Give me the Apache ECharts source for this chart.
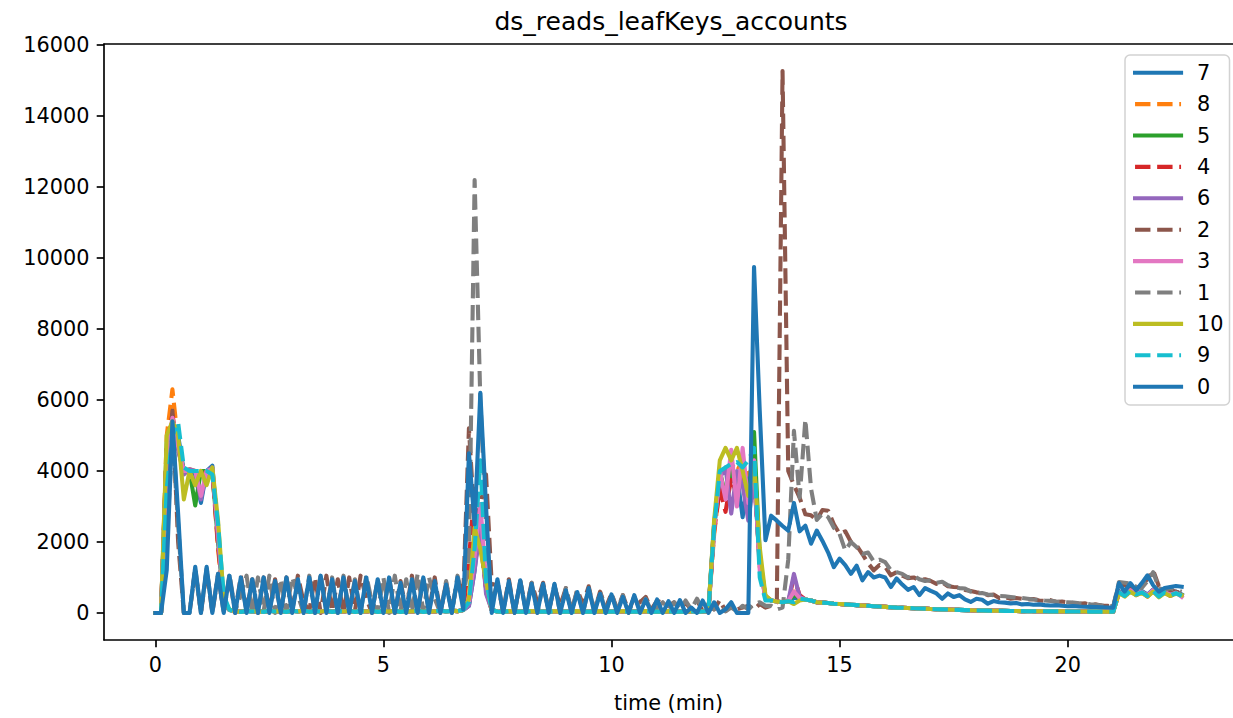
<!DOCTYPE html>
<html><head><meta charset="utf-8">
<script src="https://cdn.jsdelivr.net/npm/echarts@6/dist/echarts.min.js"></script>
<style>html,body{margin:0;padding:0;background:#fff}#c{width:1233px;height:718px}</style>
</head><body><div id="c"></div>
<script>
// sampling step of the series (minutes)
const STEP_MIN = 0.125;

const s7 = [
0, 0, 4000, 5300, 5000, 4000, 4000, 3900, 3100, 4000, 4150, 2200,
350, 80, 50, 30, 60, 40, 50, 30,
60, 40, 50, 30, 60, 40, 70, 30, 50, 40, 60, 30, 50, 40, 60, 30, 50, 40, 60, 30,
50, 40, 60, 30, 50, 40, 60, 30, 50, 40, 70, 40, 60, 50, 80,
200, 1200, 2800, 700, 80,
40, 30, 50, 30, 40, 30, 50, 30, 40, 30, 50, 30, 40, 30, 50, 30, 40, 30, 50, 30,
40, 30, 50, 30, 40, 30, 50, 30, 40, 30, 50, 30, 40, 30, 50, 30, 40, 50,
2400, 3900, 4000, 3700, 3900, 2700, 3800, 4000, 1400,
450, 350, 320, 300, 330, 420, 420, 380, 350, 300, 290, 280, 260,
250, 240, 230, 220, 210, 200, 190, 180, 170, 160, 150, 145, 140, 130, 125, 120, 110, 105, 100, 95,
90, 85, 80, 75, 70, 68, 65, 62, 60, 58, 55, 53, 50, 49, 48, 47, 46, 45, 44, 43,
42, 41, 40, 39, 38, 37, 36, 35, 35,
620, 520, 680, 560, 620, 520, 660, 500, 620, 540, 600, 520
];
const s8 = [
0, 0, 5000, 6300, 4800, 4000, 4050, 4000, 4000, 4000, 4000, 1800,
250, 70, 40, 30, 50, 40, 50, 30,
60, 40, 50, 30, 60, 40, 70, 30, 50, 40, 60, 30, 50, 40, 60, 30, 50, 40, 60, 30,
50, 40, 60, 30, 50, 40, 60, 30, 50, 40, 70, 40, 60, 50, 80,
300, 1800, 2600, 600, 80,
40, 30, 50, 30, 40, 30, 50, 30, 40, 30, 50, 30, 40, 30, 50, 30, 40, 30, 50, 30,
40, 30, 50, 30, 40, 30, 50, 30, 40, 30, 50, 30, 40, 30, 50, 30, 40, 50,
2200, 3630, 4000, 4200, 4000, 4300, 3900, 4100, 1300,
470, 360, 320, 300, 330, 600, 450, 380, 350, 300, 290, 280, 260,
250, 240, 230, 220, 210, 200, 190, 180, 170, 160, 150, 145, 140, 130, 125, 120, 110, 105, 100, 95,
90, 85, 80, 75, 70, 68, 65, 62, 60, 58, 55, 53, 50, 49, 48, 47, 46, 45, 44, 43,
42, 41, 40, 39, 38, 37, 36, 35, 35,
580, 480, 620, 520, 580, 480, 640, 460, 580, 500, 560, 480
];
const s5 = [
0, 0, 4800, 5400, 4700, 4000, 4000, 3030, 4000, 4000, 4000, 2000,
300, 80, 50, 30, 60, 40, 50, 30,
60, 40, 50, 30, 60, 40, 70, 30, 50, 40, 60, 30, 50, 40, 60, 30, 50, 40, 60, 30,
50, 40, 60, 30, 50, 40, 60, 30, 50, 40, 70, 40, 60, 50, 80,
250, 1400, 2200, 900, 80,
40, 30, 50, 30, 40, 30, 50, 30, 40, 30, 50, 30, 40, 30, 50, 30, 40, 30, 50, 30,
40, 30, 50, 30, 40, 30, 50, 30, 40, 30, 50, 30, 40, 30, 50, 30, 40, 50,
2500, 4000, 3300, 4000, 3500, 4200, 3100, 5100, 1600,
450, 350, 320, 300, 330, 500, 420, 380, 350, 300, 290, 280, 260,
250, 240, 230, 220, 210, 200, 190, 180, 170, 160, 150, 145, 140, 130, 125, 120, 110, 105, 100, 95,
90, 85, 80, 75, 70, 68, 65, 62, 60, 58, 55, 53, 50, 49, 48, 47, 46, 45, 44, 43,
42, 41, 40, 39, 38, 37, 36, 35, 35,
600, 500, 650, 530, 600, 480, 640, 470, 600, 500, 560, 500
];
const s4 = [
0, 0, 4700, 5600, 4600, 4000, 4000, 4000, 3800, 4000, 4000, 1900,
300, 80, 50, 30, 60, 40, 50, 30,
60, 40, 50, 30, 60, 40, 70, 30, 50, 40, 60, 30, 50, 40, 60, 30, 50, 40, 60, 30,
50, 40, 60, 30, 50, 40, 60, 30, 50, 40, 70, 40, 60, 50, 80,
1500, 3500, 2000, 700, 80,
40, 30, 50, 30, 40, 30, 50, 30, 40, 30, 50, 30, 40, 30, 50, 30, 40, 30, 50, 30,
40, 30, 50, 30, 40, 30, 50, 30, 40, 30, 50, 30, 40, 30, 50, 30, 40, 50,
2300, 3500, 2850, 3800, 3300, 4000, 3000, 3900, 1400,
450, 350, 320, 300, 330, 1000, 500, 380, 350, 300, 290, 280, 260,
250, 240, 230, 220, 210, 200, 190, 180, 170, 160, 150, 145, 140, 130, 125, 120, 110, 105, 100, 95,
90, 85, 80, 75, 70, 68, 65, 62, 60, 58, 55, 53, 50, 49, 48, 47, 46, 45, 44, 43,
42, 41, 40, 39, 38, 37, 36, 35, 35,
560, 450, 620, 500, 580, 460, 620, 450, 580, 480, 540, 480
];
const s6 = [
0, 0, 4600, 5400, 4600, 3900, 4050, 4000, 3200, 4000, 4100, 2100,
300, 80, 50, 30, 60, 40, 50, 30,
60, 40, 50, 30, 60, 40, 70, 30, 50, 40, 60, 30, 50, 40, 60, 30, 50, 40, 60, 30,
50, 40, 60, 30, 50, 40, 60, 30, 50, 40, 70, 40, 60, 50, 80,
200, 1200, 2400, 540, 80,
40, 30, 50, 30, 40, 30, 50, 30, 40, 30, 50, 30, 40, 30, 50, 30, 40, 30, 50, 30,
40, 30, 50, 30, 40, 30, 50, 30, 40, 30, 50, 30, 40, 30, 50, 30, 40, 50,
2500, 3800, 4100, 2800, 4000, 3600, 2600, 3800, 1500,
450, 350, 320, 300, 330, 1100, 450, 380, 350, 300, 290, 280, 260,
250, 240, 230, 220, 210, 200, 190, 180, 170, 160, 150, 145, 140, 130, 125, 120, 110, 105, 100, 95,
90, 85, 80, 75, 70, 68, 65, 62, 60, 58, 55, 53, 50, 49, 48, 47, 46, 45, 44, 43,
42, 41, 40, 39, 38, 37, 36, 35, 35,
600, 500, 660, 550, 600, 500, 650, 480, 600, 520, 580, 500
];
const s2 = [
0, 0, 3500, 5700, 2000, 0, 0, 1250, 0, 1200, 0, 1050, 50, 1000, 0, 1050, 50, 950, 0, 1000,
50, 950, 0, 1000, 50, 1050, 300, 50, 1000, 0, 1050, 50, 950, 0, 1000, 50, 1050, 400, 0, 950,
50, 1000, 0, 900, 50, 1050, 0, 950, 50, 1000, 0, 850, 50, 950, 500, 5200, 2500, 3000, 3900, 800,
800, 50, 950, 0, 900, 100, 850, 300, 850, 50, 750, 200, 700, 50, 650, 250, 750, 50, 600, 150,
550, 100, 500, 50, 450, 300, 450, 100, 350, 280, 200, 300, 100, 280, 100, 355, 50, 170, 100, 360,
50, 200, 100, 150, 200, 100, 250, 150, 200, 300, 15270, 4000, 3600, 3250, 2780, 2750, 2620, 2900, 2880, 2500,
2230, 2300, 2000, 1900, 1660, 1400, 1200, 1350, 1300, 1060, 1150, 1050, 980, 1000, 920, 950, 900, 820, 860, 750,
730, 720, 650, 620, 580, 560, 500, 520, 420, 450, 400, 420, 400, 380, 390, 350, 340, 360, 310, 320,
300, 280, 260, 270, 230, 240, 210, 200, 190, 800, 780, 700, 650, 800, 950, 1200, 750, 600, 650, 600,
550
];
const s3 = [
0, 0, 4500, 5500, 4700, 4000, 4000, 4000, 3300, 4000, 4050, 2300,
300, 80, 50, 30, 60, 40, 50, 30,
60, 40, 50, 30, 60, 40, 70, 30, 50, 40, 60, 30, 50, 40, 60, 30, 50, 40, 60, 30,
50, 40, 60, 30, 50, 40, 60, 30, 50, 40, 70, 40, 60, 50, 80,
300, 1600, 3070, 900, 80,
40, 30, 50, 30, 40, 30, 50, 30, 40, 30, 50, 30, 40, 30, 50, 30, 40, 30, 50, 30,
40, 30, 50, 30, 40, 30, 50, 30, 40, 30, 50, 30, 40, 30, 50, 30, 40, 50,
2400, 4000, 3200, 4600, 3000, 4650, 3100, 4300, 1200,
450, 350, 320, 300, 330, 600, 420, 380, 350, 300, 290, 280, 260,
250, 240, 230, 220, 210, 200, 190, 180, 170, 160, 150, 145, 140, 130, 125, 120, 110, 105, 100, 95,
90, 85, 80, 75, 70, 68, 65, 62, 60, 58, 55, 53, 50, 49, 48, 47, 46, 45, 44, 43,
42, 41, 40, 39, 38, 37, 36, 35, 35,
580, 480, 640, 540, 590, 490, 640, 470, 590, 510, 570, 450
];
const s1 = [
0, 0, 2000, 5000, 2500, 0, 0, 1200, 0, 1250, 50, 1100, 0, 1100, 50, 500, 1050, 0, 1000, 50,
1050, 0, 950, 50, 1000, 500, 0, 1050, 0, 1100, 50, 1000, 0, 1050, 50, 950, 0, 1050, 300, 50,
1000, 0, 1050, 50, 950, 0, 1100, 50, 1000, 400, 0, 900, 0, 1050, 400, 1500, 12200, 6000, 2500, 200,
900, 50, 850, 0, 900, 50, 850, 0, 800, 50, 800, 0, 700, 50, 650, 0, 700, 50, 600, 0,
550, 50, 500, 0, 450, 100, 400, 50, 150, 300, 100, 300, 100, 350, 100, 400, 100, 250, 100, 200,
50, 150, 50, 200, 100, 250, 300, 200, 200, 100, 150, 1500, 5130, 3250, 5450, 3500, 2620, 2800, 2700, 2400,
2230, 1760, 2000, 1850, 1660, 1700, 1450, 1500, 1430, 1200, 1150, 1100, 1000, 1050, 950, 900, 920, 850, 880, 780,
730, 700, 690, 600, 550, 560, 520, 500, 480, 470, 450, 430, 420, 400, 380, 370, 350, 340, 320, 310,
300, 290, 270, 260, 240, 230, 210, 200, 190, 870, 850, 830, 740, 700, 900, 1150, 700, 650, 700, 650,
600
];
const s10 = [
0, 0, 5000, 5400, 5000, 3200, 4000, 3600, 4000, 3600, 4100, 2600,
400, 90, 50, 30, 60, 40, 50, 30,
60, 40, 50, 30, 60, 40, 70, 30, 50, 40, 60, 30, 50, 40, 60, 30, 50, 40, 60, 30,
50, 40, 60, 30, 50, 40, 60, 30, 50, 40, 70, 40, 60, 50, 80,
400, 2400, 1800, 900, 80,
40, 30, 50, 30, 40, 30, 50, 30, 40, 30, 50, 30, 40, 30, 50, 30, 40, 30, 50, 30,
40, 30, 50, 30, 40, 30, 50, 30, 40, 30, 50, 30, 40, 30, 50, 30, 40, 50,
2600, 4300, 4650, 4300, 4650, 4000, 3300, 4200, 1850,
500, 350, 320, 300, 330, 250, 350, 380, 350, 300, 290, 280, 260,
250, 240, 230, 220, 210, 200, 190, 180, 170, 160, 150, 145, 140, 130, 125, 120, 110, 105, 100, 95,
90, 85, 80, 75, 70, 68, 65, 62, 60, 58, 55, 53, 50, 49, 48, 47, 46, 45, 44, 43,
42, 41, 40, 39, 38, 37, 36, 35, 35,
560, 460, 600, 500, 560, 460, 600, 440, 560, 480, 540, 500
];
const s9 = [
0, 0, 3500, 5000, 5360, 4100, 4000, 4000, 4000, 4000, 3900, 2500,
500, 90, 40, 30, 50, 40, 50, 30,
60, 40, 50, 30, 60, 40, 70, 30, 50, 40, 60, 30, 50, 40, 60, 30, 50, 40, 60, 30,
50, 40, 60, 30, 50, 40, 60, 30, 50, 40, 70, 40, 60, 50, 80,
300, 1800, 4300, 900, 80,
40, 30, 50, 30, 40, 30, 50, 30, 40, 30, 50, 30, 40, 30, 50, 30, 40, 30, 50, 30,
40, 30, 50, 30, 40, 30, 50, 30, 40, 30, 50, 30, 40, 30, 50, 30, 40, 50,
2400, 4000, 4100, 4200, 4250, 4100, 4300, 4650, 1000,
350, 350, 320, 300, 330, 300, 400, 380, 350, 300, 290, 280, 260,
250, 240, 230, 220, 210, 200, 190, 180, 170, 160, 150, 145, 140, 130, 125, 120, 110, 105, 100, 95,
90, 85, 80, 75, 70, 68, 65, 62, 60, 58, 55, 53, 50, 49, 48, 47, 46, 45, 44, 43,
42, 41, 40, 39, 38, 37, 36, 35, 35,
580, 480, 620, 520, 580, 480, 620, 460, 580, 500, 560, 480
];
const s0 = [
0, 0, 1200, 5400, 2800, 0, 0, 1300, 0, 1300, 0, 1100, 0, 1050, 0, 1000, 0, 950, 0, 1000,
0, 900, 0, 1000, 0, 950, 0, 1000, 0, 1050, 0, 950, 0, 1000, 0, 900, 0, 1000, 0, 950,
0, 1000, 0, 850, 0, 950, 0, 1000, 0, 900, 0, 800, 0, 1000, 100, 4500, 2500, 6200, 3000, 0,
950, 0, 900, 0, 920, 0, 820, 0, 820, 0, 820, 0, 640, 0, 590, 0, 700, 0, 540, 0,
520, 0, 450, 0, 500, 0, 380, 0, 380, 0, 330, 0, 360, 0, 150, 0, 350, 0, 300, 0,
100, 300, 0, 0, 0, 9750, 5700, 2050, 2740, 2600, 2450, 2320, 3100, 2300, 2460, 1950, 2320, 2030, 1700, 1290,
1530, 1350, 1100, 1330, 920, 1150, 1000, 1050, 1000, 730, 970, 800, 650, 730, 500, 700, 620, 550, 400, 550,
450, 500, 380, 310, 400, 370, 260, 335, 300, 290, 270, 280, 240, 250, 230, 240, 220, 210, 215, 200,
190, 195, 180, 175, 170, 165, 160, 155, 150, 840, 600, 840, 640, 840, 1060, 780, 600, 700, 730, 760,
740
];

const seriesNames  = ['7', '8', '5', '4', '6', '2', '3', '1', '10', '9', '0'];
const seriesValues = [s7, s8, s5, s4, s6, s2, s3, s1, s10, s9, s0];
const seriesColors = ['#1f77b4', '#ff7f0e', '#2ca02c', '#d62728', '#9467bd', '#8c564b',
                      '#e377c2', '#7f7f7f', '#bcbd22', '#17becf', '#1f77b4'];
const seriesDashed = [false, true, false, true, false, true, false, true, false, true, false];
const xTicks = [0, 5, 10, 15, 20];
const yTicks = [0, 2000, 4000, 6000, 8000, 10000, 12000, 14000, 16000];
const time = s0.map((_, i) => i * STEP_MIN);

const FONT = 'DejaVu Sans';
const FS = 20.8;
const LW = 4.1;
const axisLineStyle = { color: '#000', width: 1.67 };

const chart = echarts.init(document.getElementById('c'), null, { renderer: 'svg', width: 1233, height: 718 });
chart.setOption({
  animation: false,
  backgroundColor: '#ffffff',
  textStyle: { fontFamily: FONT },
  graphic: [{
    type: 'text', x: 671, y: 21,
    style: {
      text: 'ds_reads_leafKeys_accounts', font: '25px "DejaVu Sans"', fill: '#000',
      align: 'center', verticalAlign: 'middle', textAlign: 'center', textVerticalAlign: 'middle'
    }
  }],
  grid: { left: 104, right: -6.4, top: 44, bottom: 75 },
  legend: {
    orient: 'vertical', left: 1125, top: 55,
    data: seriesNames,
    itemWidth: 46, itemHeight: 22, itemGap: 9.4,
    padding: [6.7, 6, 7.3, 8],
    backgroundColor: 'rgba(255,255,255,0.8)',
    borderColor: '#d2d2d2', borderWidth: 1.5, borderRadius: 5,
    itemStyle: { opacity: 0 },
    lineStyle: { width: LW },
    formatter: name => '{t|' + name + '}',
    textStyle: {
      fontFamily: FONT, fontSize: FS, color: '#000', lineHeight: 22,
      rich: { t: { fontFamily: FONT, fontSize: FS, color: '#000', lineHeight: 22, padding: [0, 0, 0, 11] } }
    }
  },
  xAxis: [{
    type: 'value', min: -1.125, max: 23.625,
    name: 'time (min)', nameLocation: 'middle', nameGap: 52,
    nameTextStyle: { fontFamily: FONT, fontSize: FS, color: '#000' },
    axisLine: { show: true, onZero: false, lineStyle: axisLineStyle },
    axisTick: { show: true, customValues: xTicks, length: 7.3, lineStyle: axisLineStyle },
    axisLabel: { customValues: xTicks, fontFamily: FONT, fontSize: FS, color: '#000', margin: 14.6, formatter: v => String(v) },
    splitLine: { show: false }
  }, {
    type: 'value', position: 'top', min: -1.125, max: 23.625,
    axisLine: { show: true, onZero: false, lineStyle: axisLineStyle },
    axisTick: { show: false }, axisLabel: { show: false }, splitLine: { show: false }
  }],
  yAxis: [{
    type: 'value', min: -763, max: 16033,
    axisLine: { show: true, onZero: false, lineStyle: axisLineStyle },
    axisTick: { show: true, customValues: yTicks, length: 7.3, lineStyle: axisLineStyle },
    axisLabel: { customValues: yTicks, fontFamily: FONT, fontSize: FS, color: '#000', margin: 14.6, formatter: v => String(v) },
    splitLine: { show: false }
  }],
  series: seriesNames.map((name, k) => ({
    name: name, type: 'line', xAxisIndex: 0, yAxisIndex: 0,
    data: seriesValues[k].map((v, i) => [time[i], v]),
    symbol: 'none', showSymbol: false, silent: true,
    itemStyle: { color: seriesColors[k] },
    lineStyle: {
      color: seriesColors[k], width: LW,
      type: seriesDashed[k] ? [15.4, 6.7] : 'solid',
      cap: seriesDashed[k] ? 'butt' : 'square', join: 'round'
    }
  }))
});
</script></body></html>
